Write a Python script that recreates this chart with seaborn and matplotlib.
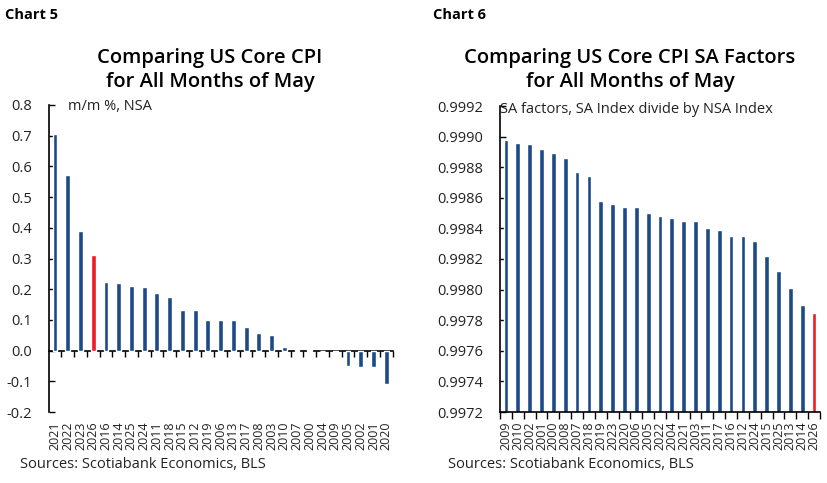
import numpy as np
import pandas as pd
import seaborn as sns
import matplotlib
matplotlib.use("Agg")
import matplotlib.pyplot as plt

# Chart 5: core CPI m/m % NSA, all months of May (sorted)
years_cpi = ["2021", "2022", "2023", "2026", "2016", "2014", "2025", "2024", "2011",
             "2018", "2015", "2012", "2019", "2006", "2013", "2017", "2008", "2003",
             "2010", "2007", "2000", "2004", "2009", "2005", "2002", "2001", "2020"]
mm_cpi = [0.706, 0.571, 0.391, 0.311, 0.224, 0.219, 0.212, 0.206, 0.186,
          0.174, 0.133, 0.133, 0.099, 0.099, 0.099, 0.076, 0.057, 0.052,
          0.013, 0.002, 0.001, 0.0, -0.004, -0.049, -0.052, -0.054, -0.108]

# Chart 6: SA factors for May (SA index / NSA index)
years_sa = ["2009", "2010", "2002", "2001", "2000", "2008", "2007", "2018", "2019",
            "2023", "2020", "2006", "2005", "2022", "2004", "2021", "2003", "2011",
            "2017", "2016", "2012", "2024", "2015", "2025", "2013", "2014", "2026"]
sa_factor = [0.99898, 0.99896, 0.99895, 0.99892, 0.99889, 0.99886, 0.99877, 0.99874, 0.99858,
             0.99856, 0.99854, 0.99854, 0.99850, 0.99848, 0.99847, 0.99845, 0.99845, 0.99840,
             0.99839, 0.99835, 0.99835, 0.99832, 0.99822, 0.99812, 0.99801, 0.99790, 0.99785]

cpi_ticks = [-0.2, -0.1, 0.0, 0.1, 0.2, 0.3, 0.4, 0.5, 0.6, 0.7, 0.8]
sa_ticks = [0.9972, 0.9974, 0.9976, 0.9978, 0.9980, 0.9982, 0.9984, 0.9986, 0.9988, 0.9990, 0.9992]

NAVY = "#1d4a87"
RED = "#ee1c25"
TXT = "#222222"

sns.set_theme(style="white")
plt.rcParams["font.family"] = ["Open Sans", "DejaVu Sans"]

df_cpi = pd.DataFrame({"year": years_cpi, "value": mm_cpi})
df_cpi["kind"] = np.where(df_cpi["year"] == "2026", "now", "past")
df_sa = pd.DataFrame({"year": years_sa, "value": sa_factor})
df_sa["kind"] = np.where(df_sa["year"] == "2026", "now", "past")
pal = {"now": RED, "past": NAVY}

fig = plt.figure(figsize=(8.28, 4.83), dpi=100)
ax1 = fig.add_axes([48.6 / 828, 71 / 483, 344 / 828, 307 / 483])
ax2 = fig.add_axes([500 / 828, 71 / 483, 320 / 828, 306 / 483])


def style_axis(ax, n, ticks, fmt):
    ax.set_xlim(-0.5, n - 0.5)
    ax.set_ylim(ticks[0], ticks[-1])
    ax.set_yticks(ticks)
    ax.set_yticklabels([fmt.format(t) for t in ticks])
    ax.set_xlabel("")
    ax.set_ylabel("")
    for s in ["top", "right"]:
        ax.spines[s].set_visible(False)
    ax.spines["left"].set_color("black")
    ax.spines["left"].set_linewidth(1.2)
    ax.tick_params(axis="y", direction="in", length=4, width=1, color="black",
                   pad=12, labelsize=10.5, labelcolor=TXT, left=True)
    ax.tick_params(axis="x", which="major", length=0, pad=7, labelsize=9,
                   labelrotation=90, labelcolor=TXT)
    ax.grid(False)


# ---- Chart 5 ----
sns.barplot(data=df_cpi, x="year", y="value", hue="kind", palette=pal, order=years_cpi,
            dodge=False, width=0.38, legend=False, ax=ax1, saturation=1)
style_axis(ax1, len(years_cpi), cpi_ticks, "{:.1f}")
ax1.spines["bottom"].set_visible(False)
zero_pos = (0 - cpi_ticks[0]) / (cpi_ticks[-1] - cpi_ticks[0])
sec = ax1.secondary_xaxis(zero_pos)
sec.set_xticks(np.arange(0.5, len(years_cpi), 1.0))
sec.tick_params(axis="x", direction="out", length=4, width=1, color="black",
                labelbottom=False, bottom=True)
sec.spines["bottom"].set_color("black")
sec.spines["bottom"].set_linewidth(1.2)
ax1.text(0.055, 0.995, "m/m %, NSA", transform=ax1.transAxes, ha="left", va="center",
         fontsize=10.5, color=TXT)

# ---- Chart 6 ----
sns.barplot(data=df_sa, x="year", y="value", hue="kind", palette=pal, order=years_sa,
            dodge=False, width=0.4, legend=False, ax=ax2, saturation=1)
style_axis(ax2, len(years_sa), sa_ticks, "{:.4f}")
ax2.spines["bottom"].set_color("black")
ax2.spines["bottom"].set_linewidth(1.2)
ax2.set_xticks(np.arange(-0.5, len(years_sa), 1.0), minor=True)
ax2.tick_params(axis="x", which="minor", direction="out", length=5, width=1,
                color="black", bottom=True)
ax2.text(0.0, 0.99, "SA factors, SA Index divide by NSA Index", transform=ax2.transAxes,
         ha="left", va="center", fontsize=10.5, color=TXT)

# ---- figure text ----
fig.text(5 / 828, 1 - 15 / 483, "Chart 5", ha="left", va="center", fontsize=10.5,
         fontweight="bold", color="black")
fig.text(433 / 828, 1 - 15 / 483, "Chart 6", ha="left", va="center", fontsize=10.5,
         fontweight="bold", color="black")
fig.text(210 / 828, 1 - 70 / 483, "Comparing US Core CPI\nfor All Months of May",
         ha="center", va="center", fontsize=14.5, fontweight="semibold", color="black",
         linespacing=1.2)
fig.text(630 / 828, 1 - 70 / 483, "Comparing US Core CPI SA Factors\nfor All Months of May",
         ha="center", va="center", fontsize=14.5, fontweight="semibold", color="black",
         linespacing=1.2)
fig.text(20 / 828, 1 - 465 / 483, "Sources: Scotiabank Economics, BLS", ha="left",
         va="center", fontsize=10.5, color=TXT)
fig.text(448 / 828, 1 - 465 / 483, "Sources: Scotiabank Economics, BLS", ha="left",
         va="center", fontsize=10.5, color=TXT)

fig.savefig("out.png", dpi=100)
